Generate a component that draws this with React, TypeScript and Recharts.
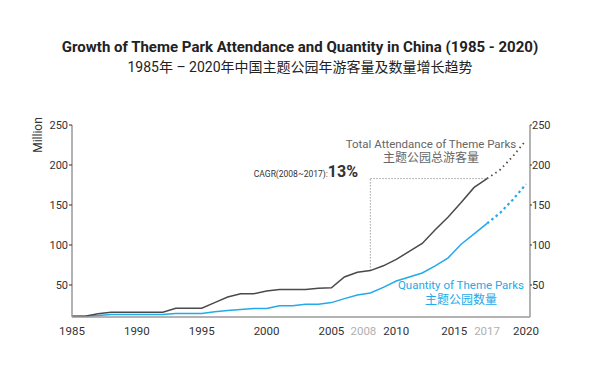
import { LineChart, Line, XAxis, YAxis, ReferenceLine } from 'recharts';

const years = [
  1985, 1986, 1987, 1988, 1989, 1990, 1991, 1992, 1993, 1994, 1995, 1996,
  1997, 1998, 1999, 2000, 2001, 2002, 2003, 2004, 2005, 2006, 2007, 2008,
  2009, 2010, 2011, 2012, 2013, 2014, 2015, 2016, 2017, 2018, 2019, 2020,
];

// million visitors, 1985 - 2017
const attendance = [
  11, 11, 14, 16, 16, 16, 16, 16, 21, 21, 21, 28, 35, 39, 39, 42.5, 44.5,
  44.5, 44.5, 46, 46.5, 60, 66, 68, 74, 82, 92, 102, 119, 135, 153, 172, 183,
];
// 2017 - 2020 outlook
const attendanceOutlook = [183, 194, 211, 231];

const parks = [
  11, 11, 12, 13, 13, 13, 13, 13, 14.5, 14.5, 14.5, 16.5, 18, 19.5, 20.5,
  20.5, 24, 24, 26, 26, 28, 33, 37.5, 40, 47, 55, 60, 65, 74, 84, 101, 114, 127,
];
const parksOutlook = [127, 140, 157, 176];

const xTicks = [1985, 1990, 1995, 2000, 2005, 2008, 2010, 2015, 2017, 2020];
const mutedTicks = [2008, 2017];
const yTicks = [50, 100, 150, 200, 250];

const cagrFrom = 2008;
const cagrTo = 2017;

const outlookStart = years.indexOf(2017);

const data = years.map((year, i) => ({
  year,
  attendance: i < attendance.length ? attendance[i] : null,
  attendanceOutlook: i >= outlookStart ? attendanceOutlook[i - outlookStart] : null,
  parks: i < parks.length ? parks[i] : null,
  parksOutlook: i >= outlookStart ? parksOutlook[i - outlookStart] : null,
}));

const cagrStartValue = attendance[years.indexOf(cagrFrom)];
const cagrEndValue = attendance[years.indexOf(cagrTo)];

const DARK = '#4a4a4a';
const BLUE = '#22aaea';
const AXIS = '#9a9a9a';
const FONT = "Roboto, 'Noto Sans CJK SC', sans-serif";

// labels that sit close to the next tick are pulled left so they don't collide
const YearTick = (props: any) => {
  const { x, y, payload } = props;
  const idx = xTicks.indexOf(payload.value);
  const next = xTicks[idx + 1];
  const crowded = next !== undefined && next - payload.value <= 2;
  const muted = mutedTicks.includes(payload.value);
  return (
    <text
      x={x}
      y={y}
      dx={crowded ? 6 : 0}
      dy={8}
      textAnchor={crowded ? 'end' : 'middle'}
      fontSize={11.5}
      fill={muted ? '#b0b0b0' : '#333'}
    >
      {payload.value}
    </text>
  );
};

export default function App() {
  return (
    <div
      style={{
        position: 'absolute',
        left: 0,
        top: 0,
        width: 600,
        height: 368,
        background: '#fff',
        fontFamily: FONT,
      }}
    >
      <div
        style={{
          position: 'absolute',
          top: 38,
          width: 600,
          textAlign: 'center',
          fontSize: 15,
          fontWeight: 700,
          color: '#222',
          lineHeight: '18px',
        }}
      >
        Growth of Theme Park Attendance and Quantity in China (1985 - 2020)
      </div>
      <div
        style={{
          position: 'absolute',
          top: 58,
          width: 600,
          textAlign: 'center',
          fontSize: 14,
          color: '#222',
          lineHeight: '18px',
        }}
      >
        1985年 – 2020年中国主题公园年游客量及数量增长趋势
      </div>

      <div style={{ position: 'absolute', left: 0, top: 0 }}>
        <LineChart
          width={600}
          height={368}
          data={data}
          margin={{ top: 125, right: 30, bottom: 21, left: 32 }}
        >
          <XAxis
            dataKey="year"
            type="number"
            domain={[1985, 2020]}
            ticks={xTicks}
            padding={{ left: 0, right: 4 }}
            height={30}
            tickLine={false}
            tickMargin={4}
            axisLine={{ stroke: AXIS, strokeWidth: 1.5 }}
            tick={<YearTick />}
            interval={0}
          />
          <YAxis
            yAxisId="left"
            domain={[10, 250]}
            ticks={yTicks}
            allowDataOverflow
            width={40}
            tickSize={3}
            tickMargin={1}
            axisLine={{ stroke: AXIS, strokeWidth: 1.5 }}
            tickLine={{ stroke: '#333' }}
            tick={{ fontSize: 11, fill: '#333' }}
          />
          <YAxis
            yAxisId="right"
            orientation="right"
            domain={[10, 250]}
            ticks={yTicks}
            allowDataOverflow
            width={40}
            tickSize={2}
            tickMargin={0}
            axisLine={{ stroke: AXIS, strokeWidth: 1.5 }}
            tickLine={{ stroke: '#333' }}
            tick={{ fontSize: 11, fill: '#333' }}
          />
          <ReferenceLine
            yAxisId="left"
            segment={[
              { x: cagrFrom, y: cagrStartValue },
              { x: cagrFrom, y: cagrEndValue },
            ]}
            stroke="#a0a0a0"
            strokeDasharray="1.5 1.5"
          />
          <ReferenceLine
            yAxisId="left"
            segment={[
              { x: cagrFrom, y: cagrEndValue },
              { x: cagrTo, y: cagrEndValue },
            ]}
            stroke="#a0a0a0"
            strokeDasharray="1.5 1.5"
          />
          <Line
            yAxisId="left"
            dataKey="parks"
            stroke={BLUE}
            strokeWidth={1.5}
            dot={false}
            isAnimationActive={false}
          />
          <Line
            yAxisId="left"
            dataKey="parksOutlook"
            stroke={BLUE}
            strokeWidth={2.2}
            strokeDasharray="2.5 3"
            dot={false}
            isAnimationActive={false}
          />
          <Line
            yAxisId="left"
            dataKey="attendance"
            stroke={DARK}
            strokeWidth={1.5}
            dot={false}
            isAnimationActive={false}
          />
          <Line
            yAxisId="left"
            dataKey="attendanceOutlook"
            stroke={DARK}
            strokeWidth={1.8}
            strokeDasharray="1.5 3.5"
            dot={false}
            isAnimationActive={false}
          />
        </LineChart>
      </div>

      <svg
        width={600}
        height={368}
        style={{ position: 'absolute', left: 0, top: 0, pointerEvents: 'none' }}
      >
        <text
          x={0}
          y={0}
          transform="translate(42 135) rotate(-90)"
          textAnchor="middle"
          fontSize={12}
          fill="#333"
        >
          Million
        </text>
        <text x={358} y={177} textAnchor="end" fill="#333">
          <tspan fontSize={8.5}>CAGR(2008~2017):</tspan>
          <tspan fontSize={16} fontWeight={700}>13%</tspan>
        </text>
        <text x={431} y={148} textAnchor="middle" fontSize={11.5} fill="#666">
          Total Attendance of Theme Parks
        </text>
        <text x={431} y={162} textAnchor="middle" fontSize={12} fill="#666">
          主题公园总游客量
        </text>
        <text x={461} y={289} textAnchor="middle" fontSize={11.5} fill={BLUE}>
          Quantity of Theme Parks
        </text>
        <text x={461} y={304} textAnchor="middle" fontSize={12} fill={BLUE}>
          主题公园数量
        </text>
      </svg>
    </div>
  );
}
